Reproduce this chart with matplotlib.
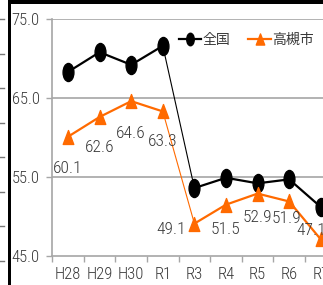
import numpy as np
import matplotlib
matplotlib.use("Agg")
import matplotlib.pyplot as plt
from matplotlib.lines import Line2D
from matplotlib.path import Path
from matplotlib.patches import Rectangle

# data
categories = ["H28", "H29", "H30", "R1", "R3", "R4", "R5", "R6", "R7"]
national = [68.3, 70.8, 69.2, 71.6, 53.6, 54.9, 54.2, 54.7, 51.2]
takatsuki = [60.1, 62.6, 64.6, 63.3, 49.1, 51.5, 52.9, 51.9, 47.1]
value_labels = ["60.1", "62.6", "64.6", "63.3", "49.1", "51.5", "52.9", "51.9", "47.1"]
y_ticks = [45.0, 55.0, 65.0, 75.0]
series_names = ["全国", "高槻市"]

# label offsets in pixels (dx, dy) for the orange values
label_offsets = [(0, -32), (0, -31), (0, -32), (0, -30),
                 (-23, -6), (0, -25), (0, -24), (-3, -17), (-10, 9)]

NUM_FONT = ["Roboto Condensed", "Archivo Narrow", "DejaVu Sans"]
CJK_FONT = ["Noto Sans CJK JP", "DejaVu Sans"]
TEXT_COLOR = "#383838"
ORANGE = "#ff6a00"
GRID = "#a6a6a6"

# tall, narrow markers (the source picture is squeezed horizontally)
circ = Path.unit_circle()
ellipse = Path(circ.vertices * np.array([0.6, 1.0]), circ.codes)
triangle = Path([(0, 0.5), (-0.38, -0.5), (0.38, -0.5), (0, 0.5)],
                [Path.MOVETO, Path.LINETO, Path.LINETO, Path.CLOSEPOLY])

W, H = 323, 285
fig = plt.figure(figsize=(W / 100, H / 100), dpi=100)
fig.patch.set_facecolor("white")

step = 31.6
left_px = 52.2
ax = fig.add_axes([left_px / W, 29 / H, step * 10 / W, 237 / H])

x = np.arange(len(categories))
split = categories.index("R1") + 1

for vals, color, marker, ms in [(national, "black", ellipse, 13),
                                (takatsuki, ORANGE, triangle, 10)]:
    vals = np.array(vals)
    ax.plot(x[:split], vals[:split], color=color, lw=1.6, marker=marker,
            ms=ms, mec=color, mfc=color, zorder=3, clip_on=False)
    ax.plot(x[split - 1:split + 1], vals[split - 1:split + 1], color=color,
            lw=0.8, zorder=2)
    ax.plot(x[split:], vals[split:], color=color, lw=1.6, marker=marker,
            ms=ms, mec=color, mfc=color, zorder=3, clip_on=False)

for i, (v, s) in enumerate(zip(takatsuki, value_labels)):
    dx, dy = label_offsets[i]
    ax.annotate(s, (x[i], v), xytext=(dx, dy), textcoords="offset pixels",
                ha="center", va="center", fontsize=12.5, color=TEXT_COLOR,
                family=NUM_FONT, weight="light", zorder=4,
                annotation_clip=False)

ax.set_xlim(-0.5, 9.5)
ax.set_ylim(45, 75)
ax.set_yticks(y_ticks)
ax.set_yticklabels([f"{t:.1f}" for t in y_ticks], family=NUM_FONT,
                   weight="light", fontsize=12, color=TEXT_COLOR)
ax.set_xticks(x)
ax.set_xticklabels(categories, family=NUM_FONT, weight="light", fontsize=12,
                   color=TEXT_COLOR)
ax.set_xticks(np.arange(-0.5, 9.6, 1), minor=True)
ax.tick_params(axis="x", which="major", length=0, pad=8)
ax.tick_params(axis="x", which="minor", length=4, color=GRID, width=1)
ax.tick_params(axis="y", length=4, color=GRID, width=1, pad=5)

for t in y_ticks[1:]:
    ax.axhline(t, color=GRID, lw=1.2, zorder=1)
for side in ["top", "right"]:
    ax.spines[side].set_visible(False)
for side in ["left", "bottom"]:
    ax.spines[side].set_color(GRID)
    ax.spines[side].set_linewidth(1.2)

handles = [
    Line2D([], [], color="black", lw=1.6, marker=ellipse, ms=9),
    Line2D([], [], color=ORANGE, lw=1.6, marker=triangle, ms=8),
]
leg = ax.legend(handles, series_names, ncol=2, frameon=False,
                loc="center left", bbox_to_anchor=(179 / W, 1 - 40 / H),
                bbox_transform=fig.transFigure, borderpad=0, borderaxespad=0,
                handlelength=1.6, handletextpad=0.1, columnspacing=1.3,
                prop={"family": CJK_FONT, "size": 10})
for t in leg.get_texts():
    t.set_color(TEXT_COLOR)

# frame pieces of the neighbouring panels
fig.add_artist(Rectangle((8 / W, 0), 3 / W, 1, transform=fig.transFigure,
                         color="black", lw=0))
fig.add_artist(Rectangle((8 / W, 1 - 3.5 / H), 1, 3.5 / H,
                         transform=fig.transFigure, color="black", lw=0))
for yy in np.arange(19, 270, 34.5):
    fig.add_artist(Line2D([0, 4 / W], [1 - yy / H] * 2, color="#777777",
                          lw=1, transform=fig.transFigure))

fig.savefig("out.png", dpi=100)
